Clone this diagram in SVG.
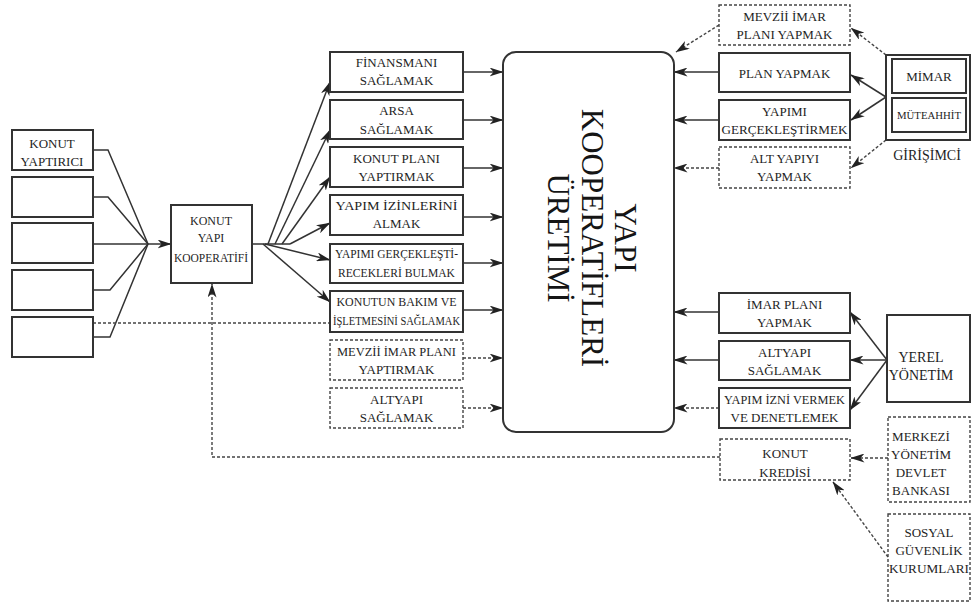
<svg xmlns="http://www.w3.org/2000/svg" width="973" height="603" viewBox="0 0 973 603">
  <style>
    .box { fill: #fff; stroke: #333; stroke-width: 2; }
    .dbox { fill: #fff; stroke: #444; stroke-width: 1.4; stroke-dasharray: 3 2; }
    .t { font-family: "Liberation Serif", "Times New Roman", serif; font-size: 13px; fill: #1e1e1e; text-anchor: middle; }
    .s12 { font-size: 12px; }
    .s11 { font-size: 11px; }
    .s14 { font-size: 14px; }
    .big { font-family: "Liberation Serif", "Times New Roman", serif; font-size: 31px; fill: #151515; text-anchor: middle; }
    .ln { fill: none; stroke: #333; stroke-width: 1.5; }
    .dl { fill: none; stroke: #444; stroke-width: 1.4; stroke-dasharray: 3 2; }
    .arr { marker-end: url(#ah); }
  </style>
  <defs>
    <marker id="ah" viewBox="0 0 14 9" markerWidth="14" markerHeight="9" refX="13.5" refY="4.5" orient="auto" markerUnits="userSpaceOnUse">
      <path d="M0,0 L14,4.5 L0,9 L4,4.5 z" fill="#222"/>
    </marker>
  </defs>
  <rect width="973" height="603" fill="#fff"/>

  <!-- connectors -->
  <g id="connectors">
    <!-- members into the cooperative -->
    <polyline class="ln" points="93,150 108,150 148,244"/>
    <polyline class="ln" points="93,197 108,197 148,244"/>
    <line class="ln" x1="93" y1="244" x2="148" y2="244"/>
    <polyline class="ln" points="93,290 110,290 148,244"/>
    <polyline class="ln" points="93,337 110,337 148,244"/>
    <line class="ln arr" x1="148" y1="244" x2="171" y2="244"/>

    <!-- cooperative out to its tasks -->
    <line class="ln" x1="252" y1="244" x2="290" y2="244"/>
    <line class="ln arr" x1="268" y1="244" x2="330" y2="82"/>
    <line class="ln arr" x1="275" y1="244" x2="330" y2="130"/>
    <line class="ln arr" x1="282" y1="244" x2="330" y2="177"/>
    <line class="ln arr" x1="290" y1="244" x2="330" y2="223"/>
    <line class="ln arr" x1="265" y1="244" x2="330" y2="260"/>
    <line class="ln arr" x1="263" y1="244" x2="330" y2="302"/>

    <!-- tasks into production (left side) -->
    <line class="ln arr" x1="463" y1="72" x2="503" y2="72"/>
    <line class="ln arr" x1="463" y1="120" x2="503" y2="120"/>
    <line class="ln arr" x1="463" y1="168" x2="503" y2="168"/>
    <line class="ln arr" x1="463" y1="217" x2="503" y2="217"/>
    <line class="ln arr" x1="463" y1="263" x2="503" y2="263"/>
    <line class="ln arr" x1="463" y1="310" x2="503" y2="310"/>
    <line class="dl arr" x1="463" y1="358" x2="503" y2="358"/>
    <line class="dl arr" x1="463" y1="408" x2="503" y2="408"/>

    <!-- tasks into production (right side) -->
    <line class="dl arr" x1="719" y1="25" x2="676" y2="52"/>
    <line class="ln arr" x1="719" y1="72" x2="674" y2="72"/>
    <line class="ln arr" x1="719" y1="120" x2="674" y2="120"/>
    <line class="dl arr" x1="719" y1="168" x2="674" y2="168"/>
    <line class="ln arr" x1="719" y1="312" x2="674" y2="312"/>
    <line class="ln arr" x1="719" y1="360" x2="674" y2="360"/>
    <line class="dl arr" x1="719" y1="408" x2="674" y2="408"/>

    <!-- entrepreneur -->
    <line class="dl arr" x1="886" y1="55" x2="851" y2="28"/>
    <line class="ln arr" x1="886" y1="97" x2="851" y2="75"/>
    <line class="ln arr" x1="886" y1="97" x2="851" y2="120"/>
    <line class="dl arr" x1="886" y1="140" x2="851" y2="168"/>

    <!-- local government -->
    <line class="ln arr" x1="887" y1="360" x2="850" y2="312"/>
    <line class="ln arr" x1="887" y1="360" x2="850" y2="360"/>
    <line class="ln arr" x1="887" y1="360" x2="850" y2="410"/>

    <!-- credit sources -->
    <line class="dl arr" x1="888" y1="458" x2="851" y2="458"/>
    <line class="dl arr" x1="888" y1="557" x2="833" y2="482"/>

    <!-- credit back to the cooperative -->
    <polyline class="dl arr" points="720,457 212,457 212,284"/>
    <line class="dl" x1="93" y1="323" x2="330" y2="323"/>
  </g>

  <!-- members -->
  <g id="konut-yaptirici">
    <rect class="box" x="12" y="130" width="81" height="40"/>
    <text class="t" x="52" y="148">KONUT</text>
    <text class="t" x="52" y="166">YAPTIRICI</text>
  </g>
  <g id="uye-2"><rect class="box" x="12" y="177" width="81" height="40"/></g>
  <g id="uye-3"><rect class="box" x="12" y="223" width="81" height="40"/></g>
  <g id="uye-4"><rect class="box" x="12" y="270" width="81" height="40"/></g>
  <g id="uye-5"><rect class="box" x="12" y="317" width="81" height="40"/></g>

  <g id="kooperatif">
    <rect class="box" x="171" y="205" width="81" height="78"/>
    <text class="t s12" x="211" y="225">KONUT</text>
    <text class="t s12" x="211" y="242">YAPI</text>
    <text class="t s12" x="211" y="262" textLength="74" lengthAdjust="spacingAndGlyphs">KOOPERATİFİ</text>
  </g>

  <!-- cooperative tasks -->
  <g id="finansman">
    <rect class="box" x="330" y="52" width="133" height="40"/>
    <text class="t" x="396.5" y="67">FİNANSMANI</text>
    <text class="t" x="396.5" y="85">SAĞLAMAK</text>
  </g>
  <g id="arsa">
    <rect class="box" x="330" y="100" width="133" height="39"/>
    <text class="t" x="396.5" y="115">ARSA</text>
    <text class="t" x="396.5" y="134">SAĞLAMAK</text>
  </g>
  <g id="konut-plani">
    <rect class="box" x="330" y="147" width="133" height="40"/>
    <text class="t" x="396.5" y="163">KONUT PLANI</text>
    <text class="t" x="396.5" y="181">YAPTIRMAK</text>
  </g>
  <g id="yapim-izin">
    <rect class="box" x="330" y="195" width="133" height="40"/>
    <text class="t" x="396.5" y="210" textLength="122" lengthAdjust="spacingAndGlyphs">YAPIM İZİNLERİNİ</text>
    <text class="t" x="396.5" y="228">ALMAK</text>
  </g>
  <g id="yapimcilar">
    <rect class="box" x="330" y="244" width="133" height="39"/>
    <text class="t" x="396.5" y="258" textLength="123" lengthAdjust="spacingAndGlyphs">YAPIMI GERÇEKLEŞTİ-</text>
    <text class="t" x="396.5" y="277" textLength="117" lengthAdjust="spacingAndGlyphs">RECEKLERİ BULMAK</text>
  </g>
  <g id="bakim">
    <rect class="box" x="330" y="291" width="133" height="41"/>
    <text class="t" x="396.5" y="306" textLength="120" lengthAdjust="spacingAndGlyphs">KONUTUN BAKIM VE</text>
    <text class="t" x="396.5" y="325" textLength="127" lengthAdjust="spacingAndGlyphs">İŞLETMESİNİ SAĞLAMAK</text>
  </g>
  <g id="mevzii-yaptirmak">
    <rect class="dbox" x="330" y="340" width="133" height="40"/>
    <text class="t" x="396.5" y="356" textLength="119" lengthAdjust="spacingAndGlyphs">MEVZİİ İMAR PLANI</text>
    <text class="t" x="396.5" y="374">YAPTIRMAK</text>
  </g>
  <g id="altyapi-saglamak">
    <rect class="dbox" x="330" y="388" width="133" height="40"/>
    <text class="t" x="396.5" y="404">ALTYAPI</text>
    <text class="t" x="396.5" y="422">SAĞLAMAK</text>
  </g>

  <!-- production -->
  <g id="uretim">
    <rect class="box" x="503" y="52" width="171" height="380" rx="13"/>
    <text class="big" transform="translate(615,238) rotate(90)">YAPI</text>
    <text class="big" transform="translate(582,238) rotate(90)">KOOPERATİFLERİ</text>
    <text class="big" transform="translate(548,238) rotate(90)">ÜRETİMİ</text>
  </g>

  <!-- entrepreneur tasks -->
  <g id="mevzii-yapmak">
    <rect class="dbox" x="719" y="5" width="131" height="40"/>
    <text class="t" x="784.5" y="21">MEVZİİ İMAR</text>
    <text class="t" x="784.5" y="39">PLANI YAPMAK</text>
  </g>
  <g id="plan-yapmak">
    <rect class="box" x="719" y="53" width="131" height="39"/>
    <text class="t" x="784.5" y="78">PLAN YAPMAK</text>
  </g>
  <g id="yapimi-gerceklestirmek">
    <rect class="box" x="719" y="100" width="131" height="40"/>
    <text class="t" x="784.5" y="116">YAPIMI</text>
    <text class="t" x="784.5" y="134" textLength="126" lengthAdjust="spacingAndGlyphs">GERÇEKLEŞTİRMEK</text>
  </g>
  <g id="alt-yapiyi">
    <rect class="dbox" x="719" y="147" width="131" height="41"/>
    <text class="t" x="784.5" y="163">ALT YAPIYI</text>
    <text class="t" x="784.5" y="181">YAPMAK</text>
  </g>

  <g id="girisimci">
    <rect class="box" x="886" y="55" width="84" height="85"/>
    <rect class="box" x="892" y="59" width="74" height="34" stroke-width="1.6"/>
    <rect class="box" x="892" y="98" width="74" height="34" stroke-width="1.6"/>
    <text class="t" x="929" y="81">MİMAR</text>
    <text class="t s11" x="929" y="119" textLength="64" lengthAdjust="spacingAndGlyphs">MÜTEAHHİT</text>
    <text class="t s14" x="927" y="160">GİRİŞİMCİ</text>
  </g>

  <!-- local government tasks -->
  <g id="imar-plani">
    <rect class="box" x="719" y="293" width="131" height="40"/>
    <text class="t" x="784.5" y="309">İMAR PLANI</text>
    <text class="t" x="784.5" y="327">YAPMAK</text>
  </g>
  <g id="altyapi">
    <rect class="box" x="719" y="341" width="131" height="39"/>
    <text class="t" x="784.5" y="357">ALTYAPI</text>
    <text class="t" x="784.5" y="375">SAĞLAMAK</text>
  </g>
  <g id="yapim-izni">
    <rect class="box" x="719" y="388" width="131" height="40"/>
    <text class="t" x="784.5" y="404" textLength="121" lengthAdjust="spacingAndGlyphs">YAPIM İZNİ VERMEK</text>
    <text class="t" x="784.5" y="422">VE DENETLEMEK</text>
  </g>
  <g id="konut-kredisi">
    <rect class="dbox" x="720" y="439" width="130" height="41"/>
    <text class="t" x="785" y="458">KONUT</text>
    <text class="t" x="785" y="477">KREDİSİ</text>
  </g>

  <g id="yerel-yonetim">
    <rect class="box" x="887" y="315" width="83" height="87"/>
    <text class="t s14" x="921" y="362">YEREL</text>
    <text class="t s14" x="921" y="380">YÖNETİM</text>
  </g>
  <g id="merkezi-yonetim">
    <rect class="dbox" x="888" y="417" width="82" height="85"/>
    <text class="t" x="921" y="441">MERKEZİ</text>
    <text class="t" x="921" y="459">YÖNETİM</text>
    <text class="t" x="921" y="477">DEVLET</text>
    <text class="t" x="921" y="495">BANKASI</text>
  </g>
  <g id="sosyal-guvenlik">
    <rect class="dbox" x="888" y="514" width="82" height="87"/>
    <text class="t" x="929" y="537">SOSYAL</text>
    <text class="t" x="929" y="555">GÜVENLİK</text>
    <text class="t" x="929" y="573" textLength="80" lengthAdjust="spacingAndGlyphs">KURUMLARI</text>
  </g>
</svg>
